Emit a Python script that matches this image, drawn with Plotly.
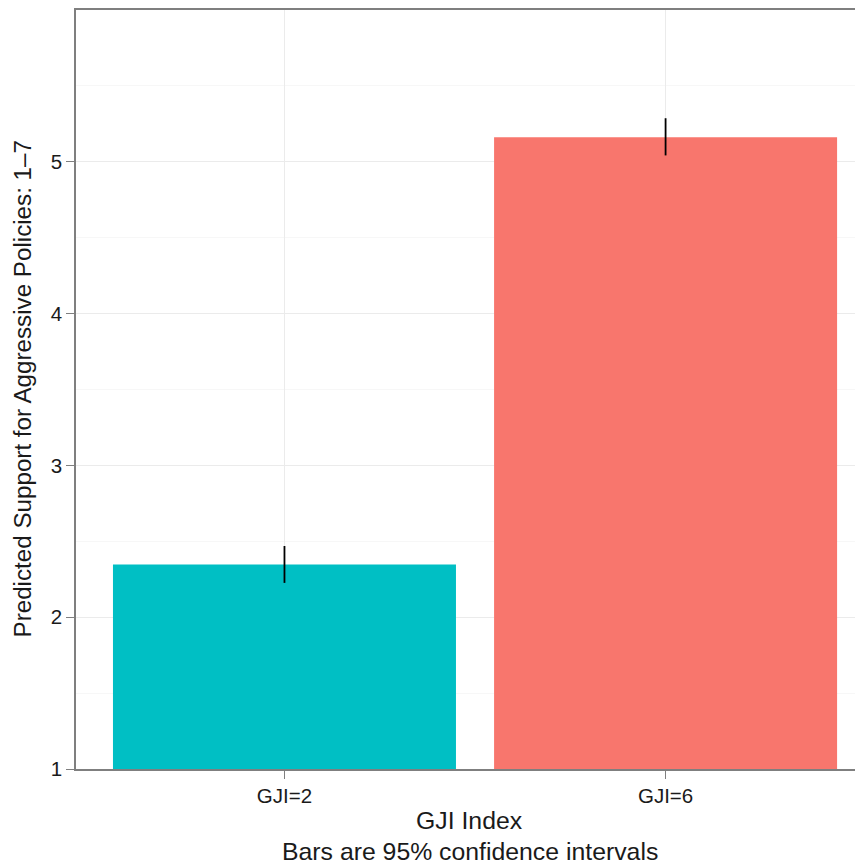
import plotly.graph_objects as go

categories = ["GJI=2", "GJI=6"]
values = [2.347, 5.162]
upper = [2.469, 5.287]
lower = [2.226, 5.042]
colors = ["#00BFC4", "#F8766D"]

y_major = [1, 2, 3, 4, 5]
y_minor = [1.5, 2.5, 3.5, 4.5, 5.5]

fig = go.Figure()
fig.add_trace(go.Bar(
    x=categories, y=values, width=0.9,
    marker=dict(color=colors, line=dict(width=0)),
    error_y=dict(type="data", symmetric=False,
                 array=[u - v for u, v in zip(upper, values)],
                 arrayminus=[v - l for v, l in zip(values, lower)],
                 width=0, thickness=1.8, color="black"),
    showlegend=False,
))

font = dict(family="Liberation Sans, Arial, sans-serif", color="#1a1a1a")

fig.update_layout(
    width=855, height=857,
    margin=dict(l=68, r=0, t=0, b=96),
    plot_bgcolor="white", paper_bgcolor="white",
    font=font,
    xaxis=dict(
        type="category", range=[-0.547, 1.518],
        showgrid=True, gridcolor="#ebebeb", gridwidth=1,
        showline=True, linecolor="#7f7f7f", linewidth=1.5, mirror=True,
        ticks="outside", ticklen=8, tickcolor="#7f7f7f",
        tickfont=dict(size=20.5, color="#1a1a1a"),
    ),
    yaxis=dict(
        range=[1, 6], tickvals=y_major,
        showgrid=True, gridcolor="#ebebeb", gridwidth=1,
        minor=dict(tickvals=y_minor, showgrid=True, gridcolor="#f7f7f7", ticks=""),
        showline=True, linecolor="#7f7f7f", linewidth=1.5,
        ticks="outside", ticklen=8, tickcolor="#7f7f7f",
        tickfont=dict(size=20.5, color="#1a1a1a"),
        zeroline=False,
    ),
    annotations=[
        dict(text="GJI Index", xref="paper", yref="paper",
             x=0.5, y=0, yshift=-51, xanchor="center", yanchor="middle",
             showarrow=False, font=dict(size=24.8)),
        dict(text="Bars are 95% confidence intervals", xref="paper", yref="paper",
             x=0.5, y=0, yshift=-82, xanchor="center", yanchor="middle",
             showarrow=False, font=dict(size=24.8)),
        dict(text="Predicted Support for Aggressive Policies: 1–7", xref="paper", yref="paper",
             x=0, y=0.5, xshift=-54, xanchor="center", yanchor="middle", textangle=-90,
             showarrow=False, font=dict(size=24.2)),
    ],
)

fig.write_html("out.html")
